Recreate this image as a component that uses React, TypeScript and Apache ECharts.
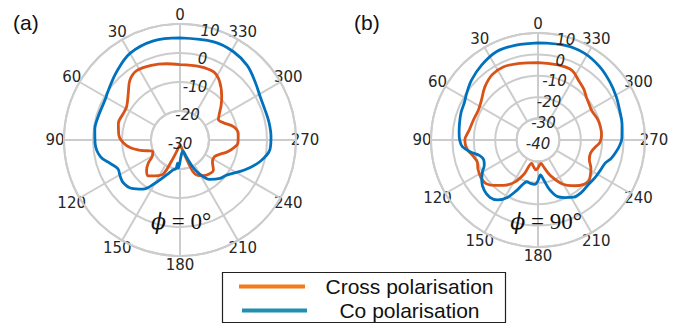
import React, { useEffect, useRef } from "react";
import * as echarts from "echarts";

// ---- data (angle in degrees, counter-clockwise from top; level in dB) ----
const crossA_angle = [0, 10, 21, 32, 40, 48, 58, 65, 75, 85, 96, 104, 113, 120, 126, 132, 138, 143, 148, 154, 158, 164, 172, 180, 188, 194, 199, 202, 206, 212, 220, 228, 236, 244, 250, 255, 260, 267, 276, 284, 292, 298, 304, 310, 316, 326, 334, 345, 360];
const crossA_db = [-4.0, -3.3, -2.4, -1.8, -3.1, -6.0, -8.3, -8.4, -8.0, -8.8, -11.5, -15.5, -19.8, -19.0, -16.5, -14.5, -13.4, -14.5, -15.5, -17.0, -22.0, -26.0, -27.8, -28.3, -27.8, -26.3, -23.0, -18.5, -16.5, -15.5, -14.6, -14.5, -16.5, -16.8, -15.5, -13.5, -11.8, -10.0, -9.8, -11.0, -14.0, -15.0, -13.6, -11.5, -9.3, -5.6, -3.8, -3.8, -4.0];

const coA_angle = [0, 15, 30, 43, 55, 62, 75, 83, 92, 102, 109, 115, 121, 127, 135, 143, 150, 159, 167, 172, 174, 177, 184, 194, 201, 205, 209, 217, 226, 233, 245, 255, 264, 272, 281, 289, 298, 308, 318, 329, 341, 360];
const coA_db = [5.2, 5.4, 4.5, 2.1, 0.1, -0.7, -0.6, -0.4, -0.7, -2.0, -4.8, -6.4, -5.9, -5.5, -6.4, -8.8, -12.8, -17.1, -19.4, -20.0, -22.0, -20.3, -24.5, -26.0, -23.5, -20.0, -17.0, -13.0, -10.9, -9.9, -5.5, -1.4, 1.2, 1.4, 1.3, 1.1, 1.4, 2.8, 4.6, 5.6, 5.8, 5.2];

const crossB_angle = [0, 13, 25, 35, 45, 55, 63, 73, 82, 90, 97, 104, 110, 116, 124, 130, 136, 143, 151, 158, 165, 170, 176, 181, 187, 193, 199, 209, 219, 226, 231, 236, 242, 249, 256, 263, 268, 275, 282, 289, 299, 305, 312, 318, 325, 334, 345, 360];
const crossB_db = [-3.8, -3.2, -2.2, -2.7, -4.9, -7.7, -8.8, -8.4, -7.5, -5.8, -6.5, -8.8, -9.8, -8.8, -8.0, -8.3, -10.5, -13.5, -17.5, -23.0, -28.7, -27.5, -26.0, -27.3, -29.0, -26.5, -22.5, -16.5, -12.5, -10.2, -9.5, -10.5, -12.0, -14.3, -14.7, -13.0, -11.0, -10.2, -10.2, -10.5, -11.4, -10.8, -9.7, -8.0, -6.5, -3.8, -3.7, -3.8];

const coB_angle = [0, 13, 25, 37, 48, 57, 63, 70, 78, 85, 90, 95, 100, 105, 110, 115, 120, 126, 133, 140, 146, 152, 157, 161, 165, 170, 176, 180, 184, 188, 193, 199, 205, 212, 220, 228, 236, 244, 251, 256, 261, 266, 271, 281, 290, 299, 309, 320, 332, 344, 360];
const coB_db = [5.4, 5.5, 5.6, 3.8, 1.8, -0.2, -1.4, -1.8, -2.5, -3.0, -3.4, -4.5, -8.0, -11.8, -13.0, -12.3, -10.0, -7.5, -5.6, -5.0, -6.2, -9.6, -14.3, -18.0, -19.8, -19.4, -19.2, -21.0, -23.6, -21.2, -16.3, -12.0, -10.3, -8.5, -8.2, -8.6, -8.1, -7.6, -6.8, -4.7, -3.2, -1.8, -0.8, 0.0, 0.6, 1.8, 3.2, 4.8, 6.0, 6.0, 5.4];

const radialA = { min: -30, max: 10, step: 10 };
const radialB = { min: -40, max: 10, step: 10 };
const angleStep = 30;

const legendNames = ["Cross polarisation", "Co polarisation"];
const panelTitles = ["(a)", "(b)"];
const phiLabels = ["0°", "90°"];

const ORANGE = "#D95319";
const BLUE = "#0072BD";
const LEG_ORANGE = "#F47A1A";
const LEG_BLUE = "#2090B0";
const GRID = "#CCCCCC";
const TXT = "#262626";

function panel(base: number, cx: number, cy: number, R: number, rad: { min: number; max: number; step: number }) {
  const inner = (R * rad.step) / (rad.max - rad.min);
  const polar = [
    { center: [cx, cy], radius: [inner, R] },
    { center: [cx, cy], radius: [0, R] },
    { center: [cx, cy + 3.5], radius: [0, R] },
  ];
  const angleAxis = [
    {
      polarIndex: base,
      type: "value",
      min: 0,
      max: 360,
      interval: angleStep,
      startAngle: 90,
      clockwise: false,
      axisLine: { show: true, lineStyle: { color: GRID, width: 2 } },
      axisTick: { show: false },
      axisLabel: {
        show: true,
        margin: 8.5,
        formatter: (v: number) => "{t|" + v + "}",
        rich: {
          t: {
            width: 1,
            height: 1,
            lineHeight: 1,
            align: "center",
            verticalAlign: "middle",
            fontSize: 15,
            color: TXT,
            fontFamily: "DejaVu Sans",
          },
        },
      },
      splitLine: { show: true, lineStyle: { color: GRID, width: 2 } },
    },
    { polarIndex: base + 1, type: "value", min: 0, max: 360, startAngle: 90, clockwise: false, show: false },
    { polarIndex: base + 2, type: "value", min: 0, max: 360, startAngle: 75, clockwise: false, show: false },
  ];
  const radiusAxis = [
    {
      polarIndex: base,
      type: "value",
      min: rad.min + rad.step,
      max: rad.max,
      interval: rad.step,
      axisLine: { show: false },
      axisTick: { show: false },
      axisLabel: { show: false },
      splitLine: { show: true, lineStyle: { color: GRID, width: 2 } },
    },
    { polarIndex: base + 1, type: "value", min: rad.min, max: rad.max, show: false },
    {
      polarIndex: base + 2,
      type: "value",
      min: rad.min,
      max: rad.max,
      interval: rad.step,
      z: 10,
      axisLine: { show: false },
      axisTick: { show: false },
      splitLine: { show: false },
      axisLabel: {
        show: true,
        margin: 0,
        align: "center",
        verticalAlign: "middle",
        fontStyle: "italic",
        fontSize: 15,
        color: TXT,
        fontFamily: "DejaVu Sans",
      },
    },
  ];
  return { polar, angleAxis, radiusAxis };
}

function lineSeries(name: string, polarIndex: number, angles: number[], db: number[], color: string) {
  return {
    name,
    type: "line",
    coordinateSystem: "polar",
    polarIndex,
    data: db.map((v, i) => [v, angles[i]]),
    smooth: 0.35,
    symbol: "none",
    lineStyle: { color, width: 2.8 },
    z: 3,
  };
}

export default function App() {
  const ref = useRef<HTMLDivElement>(null);
  useEffect(() => {
    if (!ref.current) return;
    const chart = echarts.init(ref.current, undefined, { renderer: "svg" });
    const pA = panel(0, 180, 140, 116, radialA);
    const pB = panel(3, 538, 140, 107, radialB);
    const option: any = {
      animation: false,
      backgroundColor: "#ffffff",
      polar: [...pA.polar, ...pB.polar],
      angleAxis: [...pA.angleAxis, ...pB.angleAxis],
      radiusAxis: [...pA.radiusAxis, ...pB.radiusAxis],
      series: [
        lineSeries(legendNames[0], 1, crossA_angle, crossA_db, ORANGE),
        lineSeries(legendNames[1], 1, coA_angle, coA_db, BLUE),
        lineSeries(legendNames[0], 4, crossB_angle, crossB_db, ORANGE),
        lineSeries(legendNames[1], 4, coB_angle, coB_db, BLUE),
      ],
      graphic: [
        { type: "text", x: 13, y: 22, style: { text: panelTitles[0], font: "21px 'Liberation Sans'", fill: "#111", verticalAlign: "middle" } },
        { type: "text", x: 354, y: 22, style: { text: panelTitles[1], font: "21px 'Liberation Sans'", fill: "#111", verticalAlign: "middle" } },
        {
          type: "text",
          x: 181,
          y: 221,
          z: 20,
          style: {
            text: "{p|ϕ} = " + phiLabels[0],
            fontFamily: "Liberation Serif",
            fontSize: 23,
            fill: "#111",
            align: "center",
            verticalAlign: "middle",
            rich: { p: { fontFamily: "DejaVu Serif", fontStyle: "italic", fontSize: 22 } },
          },
        },
        {
          type: "text",
          x: 546,
          y: 221,
          z: 20,
          style: {
            text: "{p|ϕ} = " + phiLabels[1],
            fontFamily: "Liberation Serif",
            fontSize: 23,
            fill: "#111",
            align: "center",
            verticalAlign: "middle",
            rich: { p: { fontFamily: "DejaVu Serif", fontStyle: "italic", fontSize: 22 } },
          },
        },
        { type: "rect", shape: { x: 222.5, y: 272.5, width: 283, height: 50 }, style: { fill: "#fff", stroke: "#222", lineWidth: 1.2 }, z: 20 },
        { type: "line", shape: { x1: 239, y1: 286.5, x2: 305, y2: 286.5 }, style: { stroke: LEG_ORANGE, lineWidth: 4 }, z: 21 },
        { type: "line", shape: { x1: 242, y1: 310.5, x2: 307, y2: 310.5 }, style: { stroke: LEG_BLUE, lineWidth: 4 }, z: 21 },
        { type: "text", x: 409.5, y: 286, z: 21, style: { text: legendNames[0], font: "21px 'Liberation Sans'", fill: "#111", align: "center", verticalAlign: "middle" } },
        { type: "text", x: 409.5, y: 310, z: 21, style: { text: legendNames[1], font: "21px 'Liberation Sans'", fill: "#111", align: "center", verticalAlign: "middle" } },
      ],
    };
    chart.setOption(option);
    return () => chart.dispose();
  }, []);
  return <div ref={ref} style={{ position: "fixed", left: 0, top: 0, width: 682, height: 326, background: "#fff" }} />;
}
